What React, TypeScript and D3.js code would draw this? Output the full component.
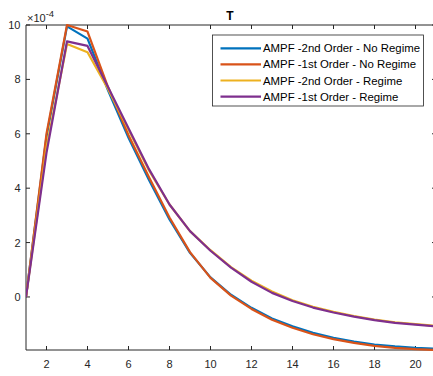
import React from "react";
import * as d3 from "d3";

const steps = [1, 2, 3, 4, 5, 6, 7, 8, 9, 10, 11, 12, 13, 14, 15, 16, 17, 18, 19, 20, 21];
const blueSeries = [0, 5.9, 9.95, 9.5, 7.6, 5.85, 4.3, 2.85, 1.62, 0.72, 0.08, -0.4, -0.79, -1.08, -1.32, -1.5, -1.64, -1.75, -1.82, -1.87, -1.9];
const orangeSeries = [0, 6.0, 10.0, 9.76, 7.72, 5.95, 4.4, 2.92, 1.65, 0.7, 0.05, -0.44, -0.84, -1.13, -1.37, -1.55, -1.69, -1.8, -1.87, -1.92, -1.95];
const yellowSeries = [0, 5.5, 9.3, 9.0, 7.65, 6.15, 4.65, 3.4, 2.42, 1.72, 1.1, 0.6, 0.2, -0.12, -0.36, -0.55, -0.7, -0.83, -0.93, -1.0, -1.06];
const purpleSeries = [0, 5.3, 9.4, 9.23, 7.72, 6.2, 4.7, 3.4, 2.42, 1.7, 1.08, 0.56, 0.15, -0.15, -0.39, -0.57, -0.72, -0.85, -0.95, -1.02, -1.08];
const seriesNames = [
  "AMPF -2nd Order - No Regime",
  "AMPF -1st Order - No Regime",
  "AMPF -2nd Order - Regime",
  "AMPF -1st Order - Regime",
];
const xTicks = [2, 4, 6, 8, 10, 12, 14, 16, 18, 20];
const yTicks = [0, 2, 4, 6, 8, 10];
const title = "T";

const colors = ["#0072BD", "#D95319", "#EDB120", "#7E2F8E"];
const axisColor = "#262626";

export default function App() {
  const W = 433, H = 376;
  const left = 26, right = 436, top = 25, bottom = 350;
  const allSeries = [blueSeries, orangeSeries, yellowSeries, purpleSeries];
  const yMin = d3.min(allSeries.flat()) as number;
  const x = d3.scaleLinear().domain([1, 21]).range([left, right]);
  const y = d3.scaleLinear().domain([yMin, 10]).range([bottom, top]);
  const line = d3
    .line<number>()
    .x((_, i) => x(steps[i]))
    .y((d) => y(d));
  const font = "'Liberation Sans', Arial, Helvetica, sans-serif";
  const tl = 4;
  const legX = 212.5, legY = 35, legW = 211, legH = 71;
  const rowH = 16.1;

  return (
    <div style={{ position: "fixed", left: 0, top: 0 }}>
      <svg width={W} height={H} style={{ display: "block", background: "#fff" }} fontFamily={font}>
        <rect x={0} y={0} width={W} height={H} fill="#fff" />
        <defs>
          <clipPath id="plotclip">
            <rect x={left} y={top - 2} width={right - left} height={bottom - top + 4} />
          </clipPath>
        </defs>
        {/* axes box */}
        <line x1={left} x2={right} y1={top} y2={top} stroke={axisColor} strokeWidth={1} />
        <line x1={left} x2={right} y1={bottom} y2={bottom} stroke={axisColor} strokeWidth={1} />
        <line x1={left} x2={left} y1={top} y2={bottom} stroke={axisColor} strokeWidth={1} />
        <line x1={right} x2={right} y1={top} y2={bottom} stroke={axisColor} strokeWidth={1} />
        {/* x ticks */}
        {xTicks.map((t) => (
          <g key={"xt" + t}>
            <line x1={x(t)} x2={x(t)} y1={bottom} y2={bottom - tl} stroke={axisColor} />
            <line x1={x(t)} x2={x(t)} y1={top} y2={top + tl} stroke={axisColor} />
            <text x={x(t)} y={bottom + 17.5} fontSize={11} fill={axisColor} textAnchor="middle">
              {t}
            </text>
          </g>
        ))}
        {/* y ticks */}
        {yTicks.map((t) => (
          <g key={"yt" + t}>
            <line x1={left} x2={left + tl} y1={y(t)} y2={y(t)} stroke={axisColor} />
            <line x1={right} x2={right - tl} y1={y(t)} y2={y(t)} stroke={axisColor} />
            <text x={left - 5.5} y={y(t) + 4} fontSize={11} fill={axisColor} textAnchor="end">
              {t}
            </text>
          </g>
        ))}
        {/* exponent */}
        <text x={27} y={22} fontSize={11} fill={axisColor}>
          {"\u00d710"}
          <tspan dy={-5} fontSize={9.5}>
            {"-4"}
          </tspan>
        </text>
        {/* title */}
        <text x={230} y={20} fontSize={12} fontWeight="bold" fill="#000" textAnchor="middle">
          {title}
        </text>
        {/* lines */}
        <g clipPath="url(#plotclip)">
          {allSeries.map((s, i) => (
            <path key={"s" + i} d={line(s) || ""} fill="none" stroke={colors[i]} strokeWidth={2.2} strokeLinejoin="round" />
          ))}
        </g>
        {/* legend */}
        <rect x={legX} y={legY} width={legW} height={legH} fill="#fff" stroke={axisColor} strokeWidth={0.8} />
        {seriesNames.map((n, i) => {
          const cy = legY + 13.3 + i * rowH;
          return (
            <g key={"lg" + i}>
              <line x1={legX + 8} x2={legX + 48.5} y1={cy} y2={cy} stroke={colors[i]} strokeWidth={2.2} />
              <text x={legX + 50.5} y={cy + 4} fontSize={11.4} fill="#000">
                {n}
              </text>
            </g>
          );
        })}
      </svg>
    </div>
  );
}
